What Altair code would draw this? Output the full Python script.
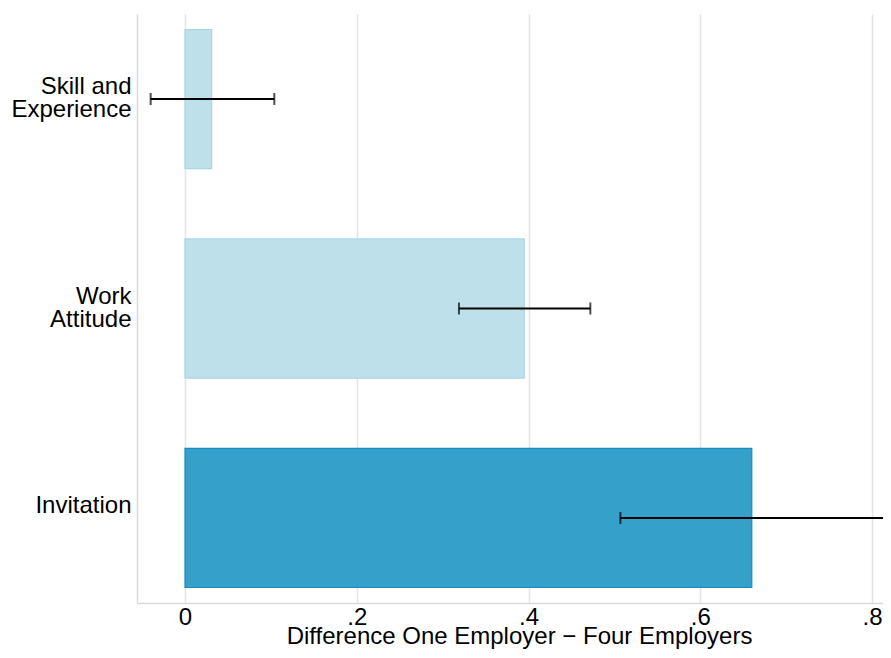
import altair as alt
import pandas as pd

categories = ["Skill and Experience", "Work Attitude", "Invitation"]
diffs = [0.031, 0.395, 0.660]
ci_low = [-0.040, 0.319, 0.507]
ci_high = [0.104, 0.472, 0.816]
tick_values = [0, 0.2, 0.4, 0.6, 0.8]

fill_colors = ["#bee0ea", "#bee0ea", "#35a0c9"]
stroke_colors = ["#a8d6e6", "#a8d6e6", "#1a8cbf"]

df = pd.DataFrame({"category": categories, "diff": diffs, "lo": ci_low, "hi": ci_high})

FONT = "Liberation Sans"

# plot area 137..883 px (page width limit), same px-per-unit as reference
xscale = alt.Scale(domain=[-0.0559, 0.8128], nice=False, zero=False)
yscale = alt.Scale(paddingInner=0.336, paddingOuter=0.074)

label_expr = ("datum.value == 'Skill and Experience' ? ['Skill and', 'Experience'] : "
              "datum.value == 'Work Attitude' ? ['Work', 'Attitude'] : datum.value")

y_enc = alt.Y("category:N", sort=categories, scale=yscale,
              axis=alt.Axis(title=None, labelExpr=label_expr, labelFontSize=24,
                            labelLineHeight=23, labelPadding=6, labelOffset=-12,
                            ticks=False, domain=True, domainColor="#d9d9d9", domainWidth=1.5,
                            grid=False, labelColor="black", labelFont=FONT))

x_axis = alt.Axis(title="Difference One Employer \u2212 Four Employers", titleFontSize=24,
                  titleFontWeight="normal", titleColor="black", titleFont=FONT,
                  titleBaseline="alphabetic", titleY=40, titleX=382, titleAlign="center",
                  values=tick_values,
                  labelExpr="datum.value == 0 ? '0' : replace(format(datum.value, '.1f'), '0.', '.')",
                  labelFontSize=24, labelColor="black", labelFont=FONT, labelPadding=2,
                  ticks=False, grid=True, gridColor="#e4e4e4", gridWidth=1.5,
                  domain=True, domainColor="#d9d9d9", domainWidth=1.5)

base = alt.Chart(df)

bars = base.mark_bar(strokeWidth=1.2).encode(
    y=y_enc,
    x=alt.X("diff:Q", scale=xscale, axis=x_axis),
    x2=alt.datum(0),
    fill=alt.Fill("category:N", scale=alt.Scale(domain=categories, range=fill_colors), legend=None),
    stroke=alt.Stroke("category:N", scale=alt.Scale(domain=categories, range=stroke_colors), legend=None),
)

rule = base.mark_rule(color="black", strokeWidth=2).encode(
    y=alt.Y("category:N", sort=categories),
    x="lo:Q",
    x2="hi:Q",
)

cap_lo = base.mark_tick(color="black", thickness=2, size=12, orient="vertical").encode(
    y=alt.Y("category:N", sort=categories), x="lo:Q")
cap_hi = base.mark_tick(color="black", thickness=2, size=12, orient="vertical").encode(
    y=alt.Y("category:N", sort=categories), x="hi:Q")

chart = alt.layer(bars, rule, cap_lo, cap_hi).properties(
    width=746, height=589,
    autosize=alt.AutoSizeParams(type="none"),
    padding={"left": 129, "top": 6, "right": 0, "bottom": 47},
    background="white",
).configure_view(stroke=None)

chart.save("out.html", embed_options={"renderer": "svg", "actions": False})
